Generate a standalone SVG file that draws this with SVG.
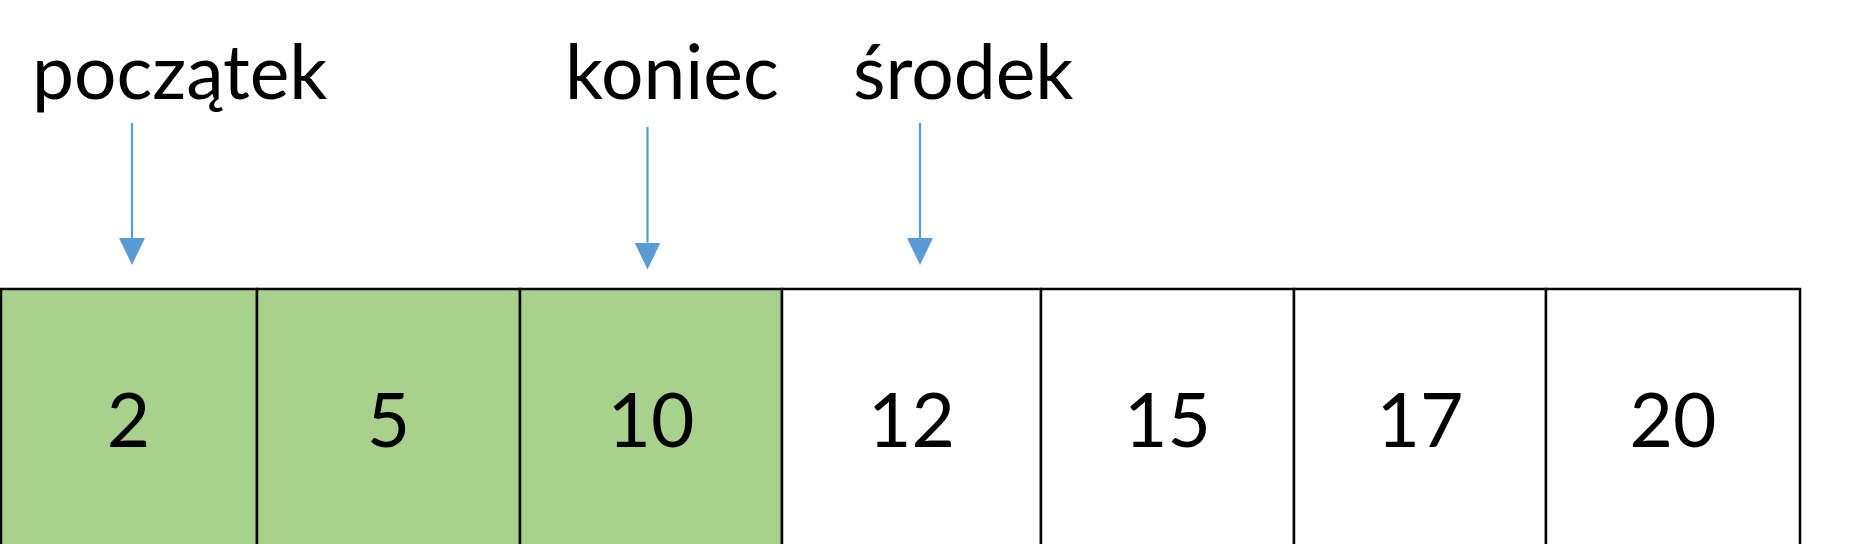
<svg xmlns="http://www.w3.org/2000/svg" width="1876" height="544" viewBox="0 0 1876 544">
  <style>
    .lbl { font-family: Lato, "Open Sans", "Liberation Sans", sans-serif; font-size: 75px; fill: #000; }
    .num { font-family: Lato, "Open Sans", "Liberation Sans", sans-serif; font-size: 75px; fill: #000; text-anchor: middle; }
    .cell { stroke: #000; stroke-width: 2.5; }
    .on { fill: #A9D18E; }
    .off { fill: #FFFFFF; }
    .arrow { stroke: #5B9BD5; stroke-width: 2.2; fill: none; marker-end: url(#head); }
  </style>
  <defs>
    <marker id="head" viewBox="0 0 27 26" refX="0" refY="13" markerWidth="27" markerHeight="26" markerUnits="userSpaceOnUse" orient="auto">
      <path d="M0,0 L27,13 L0,26 Z" fill="#5B9BD5"/>
    </marker>
  </defs>
  <rect x="0" y="0" width="1876" height="544" fill="#FFFFFF"/>

  <g id="label-poczatek"><text class="lbl" x="32" y="99">początek</text></g>
  <g id="label-koniec"><text class="lbl" x="565" y="99">koniec</text></g>
  <g id="label-srodek"><text class="lbl" x="853" y="99">środek</text></g>

  <g id="connectors">
    <line class="arrow" x1="132" y1="123" x2="132" y2="238"/>
    <line class="arrow" x1="647.5" y1="127" x2="647.5" y2="242.5"/>
    <line class="arrow" x1="920" y1="123" x2="920" y2="238"/>
  </g>

  <g id="cell-0"><rect class="cell on" x="1" y="289" width="256" height="270"/><text class="num" x="128.5" y="447">2</text></g>
  <g id="cell-1"><rect class="cell on" x="257" y="289" width="263" height="270"/><text class="num" x="388.5" y="447">5</text></g>
  <g id="cell-2"><rect class="cell on" x="520" y="289" width="262" height="270"/><text class="num" x="651" y="447">10</text></g>
  <g id="cell-3"><rect class="cell off" x="782" y="289" width="259" height="270"/><text class="num" x="911.5" y="447">12</text></g>
  <g id="cell-4"><rect class="cell off" x="1041" y="289" width="253" height="270"/><text class="num" x="1167.5" y="447">15</text></g>
  <g id="cell-5"><rect class="cell off" x="1294" y="289" width="252" height="270"/><text class="num" x="1420" y="447">17</text></g>
  <g id="cell-6"><rect class="cell off" x="1546" y="289" width="254" height="270"/><text class="num" x="1673" y="447">20</text></g>
</svg>
